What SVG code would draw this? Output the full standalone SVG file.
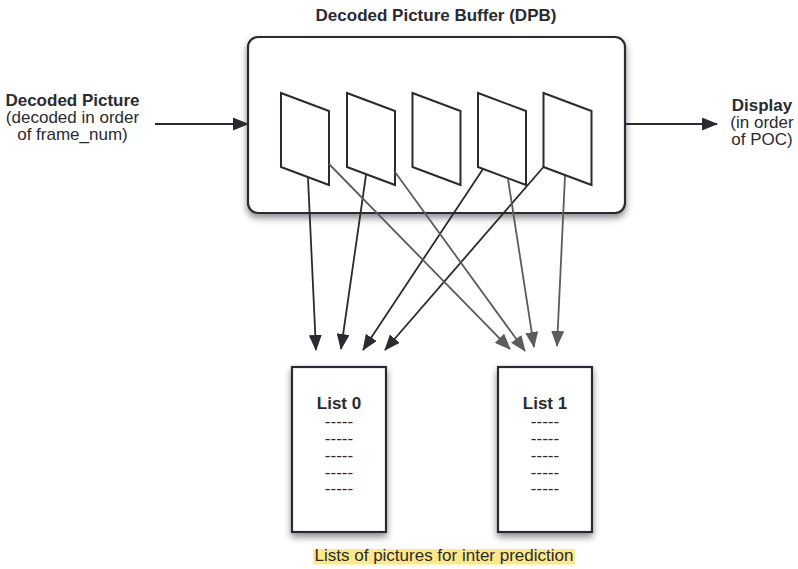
<svg xmlns="http://www.w3.org/2000/svg" width="798" height="569" viewBox="0 0 798 569">
<style>
  text { font-family: "Liberation Sans", Arial, Helvetica, sans-serif; font-size: 17px; fill: #2a2b2f; }
  .b { font-weight: bold; }
  .box { fill: #ffffff; stroke: #2a2b30; stroke-width: 2.2; }
  .frame { fill: #ffffff; stroke: #2a2b30; stroke-width: 2; stroke-linejoin: miter; }
  .dark { fill: none; stroke: #2a2b30; stroke-width: 1.8; marker-end: url(#arrDark); }
  .gray { fill: none; stroke: #5b5c60; stroke-width: 1.8; marker-end: url(#arrGray); }
  .io { fill: none; stroke: #2a2b30; stroke-width: 2; marker-end: url(#arrDark); }
</style>
<defs>
  <filter id="shadow" x="-20%" y="-20%" width="140%" height="150%">
    <feDropShadow dx="0" dy="4" stdDeviation="3.5" flood-color="#000000" flood-opacity="0.45"/>
  </filter>
  <marker id="arrDark" viewBox="0 0 16 13" refX="15" refY="6.5" markerWidth="16" markerHeight="13" markerUnits="userSpaceOnUse" orient="auto">
    <path d="M0,0 L16,6.5 L0,13 z" fill="#2a2b30"/>
  </marker>
  <marker id="arrGray" viewBox="0 0 16 13" refX="15" refY="6.5" markerWidth="16" markerHeight="13" markerUnits="userSpaceOnUse" orient="auto">
    <path d="M0,0 L16,6.5 L0,13 z" fill="#5b5c60"/>
  </marker>
</defs>
<rect width="798" height="569" fill="#ffffff"/>

<g id="dpb">
  <rect class="box" x="248" y="37" width="377" height="176" rx="10" ry="10" filter="url(#shadow)"/>
  <text class="b" x="436" y="20.5" text-anchor="middle">Decoded Picture Buffer (DPB)</text>
</g>

<g id="frame1"><polygon class="frame" points="281,93 329,111 329,185 281,167"/></g>
<g id="frame2"><polygon class="frame" points="347,93 395,111 395,185 347,167"/></g>
<g id="frame3"><polygon class="frame" points="412.5,93 460.5,111 460.5,185 412.5,167"/></g>
<g id="frame4"><polygon class="frame" points="478,93 526,111 526,185 478,167"/></g>
<g id="frame5"><polygon class="frame" points="543.5,93 591.5,111 591.5,185 543.5,167"/></g>

<g id="list0">
  <rect class="box" x="292" y="367" width="94" height="165" filter="url(#shadow)"/>
  <text class="b" x="339" y="409" text-anchor="middle">List 0</text>
  <text x="339" y="426.5" text-anchor="middle">-----</text>
  <text x="339" y="443.5" text-anchor="middle">-----</text>
  <text x="339" y="460.5" text-anchor="middle">-----</text>
  <text x="339" y="477.5" text-anchor="middle">-----</text>
  <text x="339" y="494" text-anchor="middle">-----</text>
</g>

<g id="list1">
  <rect class="box" x="498" y="367" width="94" height="165" filter="url(#shadow)"/>
  <text class="b" x="545" y="409" text-anchor="middle">List 1</text>
  <text x="545" y="426.5" text-anchor="middle">-----</text>
  <text x="545" y="443.5" text-anchor="middle">-----</text>
  <text x="545" y="460.5" text-anchor="middle">-----</text>
  <text x="545" y="477.5" text-anchor="middle">-----</text>
  <text x="545" y="494" text-anchor="middle">-----</text>
</g>

<g id="input">
  <text class="b" x="72.5" y="106" text-anchor="middle">Decoded Picture</text>
  <text x="72.5" y="123" text-anchor="middle">(decoded in order</text>
  <text x="72.5" y="140" text-anchor="middle">of frame_num)</text>
</g>

<g id="display">
  <text class="b" x="762" y="111" text-anchor="middle">Display</text>
  <text x="762" y="128" text-anchor="middle">(in order</text>
  <text x="762" y="145" text-anchor="middle">of POC)</text>
</g>

<g id="caption">
  <rect x="313" y="549" width="262" height="15.5" fill="#fde98a"/>
  <text x="444" y="561" text-anchor="middle">Lists of pictures for inter prediction</text>
</g>

<g id="connectors">
  <path class="io" d="M155,124 L248,124"/>
  <path class="io" d="M625,124 L717,124"/>
  <path class="dark" d="M308,178 L316,350"/>
  <path class="dark" d="M366,175 L341,349"/>
  <path class="dark" d="M483,169 L363,350"/>
  <path class="dark" d="M543.5,167 L385,350"/>
  <path class="gray" d="M329,164 L510,349"/>
  <path class="gray" d="M395,172 L525,351"/>
  <path class="gray" d="M508,179 L534,347"/>
  <path class="gray" d="M565,176 L557,346"/>
</g>
</svg>
